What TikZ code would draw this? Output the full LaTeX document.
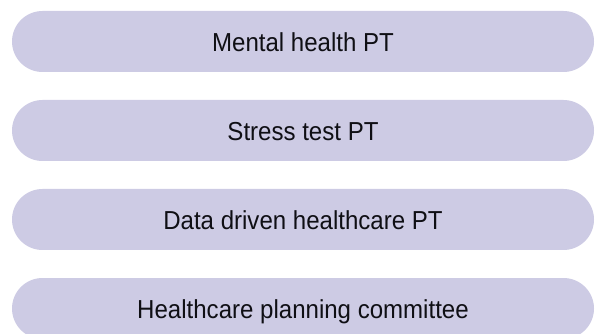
\documentclass[tikz,border=0pt]{standalone}
\usepackage{fontspec}
\setmainfont{Liberation Sans}[FakeStretch=0.925]
\definecolor{boxfill}{RGB}{205,203,228}
\definecolor{txt}{RGB}{15,15,20}
\begin{document}
\begin{tikzpicture}[x=1pt,y=1pt,
  pill/.style={fill=boxfill, draw=none, rounded corners=30.5pt, minimum width=582pt, minimum height=61pt, inner sep=0pt, text height=20.5pt, text depth=0pt, text=txt, font=\fontsize{26}{29}\selectfont}]
\useasboundingbox (0,0) rectangle (595,-334);
\node[pill] (b1) at (303,-41.5) {Mental health PT};
\node[pill] (b2) at (303,-130.5) {Stress test PT};
\node[pill] (b3) at (303,-219.5) {Data driven healthcare PT};
\node[pill] (b4) at (303,-308.5) {Healthcare planning committee};
\end{tikzpicture}
\end{document}
